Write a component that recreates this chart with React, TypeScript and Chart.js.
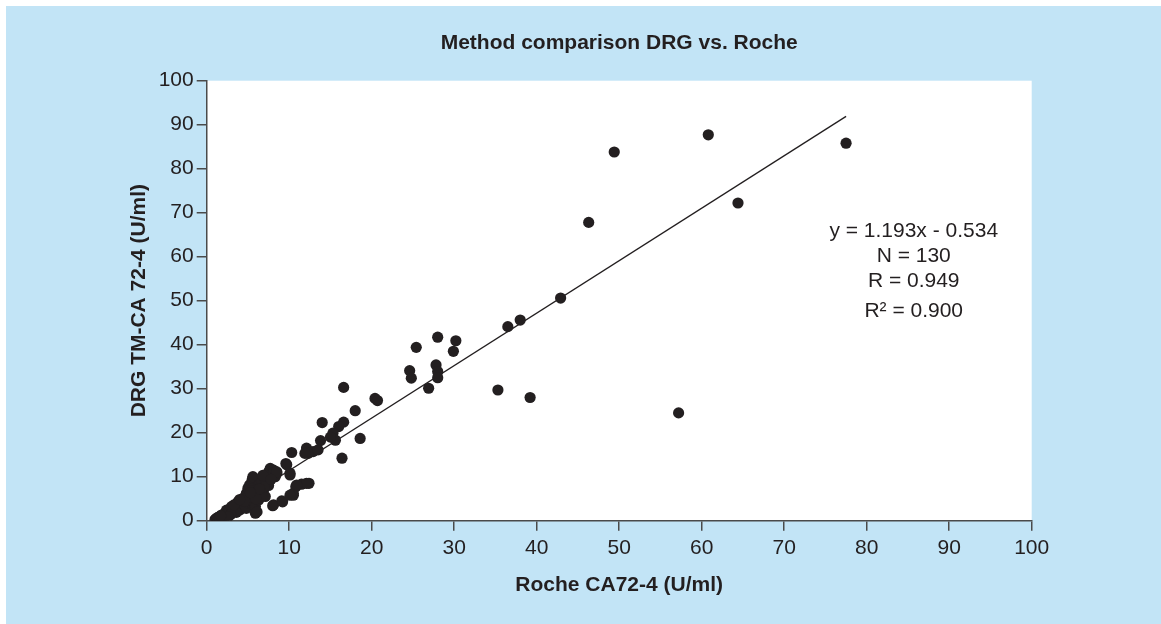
import React, { useEffect, useRef } from "react";
import { Chart, registerables } from "chart.js";

Chart.register(...registerables);

const chartTitle = "Method comparison DRG vs. Roche";
const xAxisTitle = "Roche CA72-4 (U/ml)";
const yAxisTitle = "DRG TM-CA 72-4 (U/ml)";
const axisTicks = [0, 10, 20, 30, 40, 50, 60, 70, 80, 90, 100];

// Roche CA72-4 (x) and DRG TM-CA 72-4 (y) values
const rocheValues = [
  77.5, 60.8, 49.4, 64.4, 46.3, 57.2, 42.9,
  36.5, 38.0, 35.3, 39.2, 25.4, 28.0, 30.2, 29.9, 24.6, 24.8, 27.8, 28.0, 28.0, 26.9, 20.4, 20.7,
  16.6, 18.0, 14.0, 16.6, 16.0, 15.3, 15.6, 15.0, 13.8, 18.6, 16.4, 10.3, 12.1, 12.9, 12.3, 13.5,
  9.6, 10.1, 10.1, 12.4, 11.5, 10.8, 10.5, 10.5, 11.9, 12.1, 9.7,
  1.0, 1.1, 1.2, 1.2, 1.3, 1.4, 1.5, 1.6, 1.8, 1.9, 2.0, 2.2, 2.2, 2.4, 2.5, 2.7, 2.8, 3.0, 3.0,
  3.2, 3.4, 3.5, 3.8, 3.8, 4.0, 4.2, 4.2, 4.4, 4.4, 4.6, 4.8, 4.8, 5.0, 5.0, 5.0, 5.2, 5.2, 5.5,
  5.5, 5.6, 5.6, 5.6, 5.6, 5.9, 5.9, 6.1, 6.1, 6.3, 6.3, 6.5, 6.7, 6.7, 6.9, 7.1, 7.1, 7.3, 7.5,
  7.5, 7.7, 8.1, 8.1, 8.3, 8.5, 8.5, 8.0, 8.1, 9.1, 9.2, 10.1, 10.9, 3.6, 2.9, 4.6, 6.0, 7.0,
  6.4, 5.3, 2.6, 1.7, 3.3, 4.0, 6.8, 7.8,
];
const drgValues = [
  85.8, 87.7, 83.8, 72.2, 67.8, 24.5, 50.6,
  44.1, 45.6, 29.7, 28.0, 39.4, 41.7, 40.9, 38.5, 34.1, 32.4, 35.4, 33.9, 32.5, 30.1, 27.8, 27.3,
  30.3, 25.0, 22.3, 22.4, 21.4, 19.9, 18.3, 19.0, 18.2, 18.7, 14.2, 15.5, 16.5, 15.7, 15.3, 16.1,
  13.0, 10.4, 10.8, 8.5, 8.3, 7.7, 5.8, 6.2, 15.3, 8.5, 12.7,
  0.2, 0.4, 0.1, 0.5, 0.7, 0.3, 0.9, 0.5, 1.3, 0.8, 1.1, 0.9, 1.7, 2.4, 1.5, 2.0, 2.4, 3.2, 1.8,
  2.6, 2.4, 3.0, 4.3, 4.0, 2.4, 2.8, 3.6, 4.7, 5.1, 3.0, 6.2, 2.8, 7.4, 4.0, 5.5, 7.7, 8.1, 8.5,
  9.2, 9.6, 10.0, 3.6, 4.3, 1.7, 3.2, 2.0, 6.6, 8.1, 4.7, 8.5, 8.9, 6.0, 7.0, 9.6, 5.5, 9.2, 11.1,
  8.0, 11.9, 11.5, 10.8, 10.0, 10.8, 11.1, 3.4, 3.6, 4.5, 4.3, 5.8, 8.1, 1.9, 1.4, 4.4, 5.0, 7.7,
  7.2, 6.4, 0.9, 1.1, 3.6, 4.8, 10.3, 9.4,
];

// regression line end points (as drawn)
const fitX = [1.0, 77.5];
const fitY = [0.66, 91.9];

// statistics box, positioned in data units
const statLines = ["y = 1.193x - 0.534", "N = 130", "R = 0.949", "R\u00B2 = 0.900"];
const statX = 85.7;
const statY = [65.7, 60.0, 54.5, 47.5];

const FONT = "'Liberation Sans', Arial, Helvetica, sans-serif";
const INK = "#231f20";
const AXIS = "#4a4a4a";
const BG = "rgb(194,228,246)";

const plotBackground = {
  id: "plotBackground",
  beforeDraw(chart: any) {
    const { ctx, chartArea: a } = chart;
    ctx.save();
    ctx.fillStyle = "#ffffff";
    ctx.fillRect(a.left, a.top, a.right - a.left, a.bottom - a.top);
    ctx.restore();
  },
};

const statsText = {
  id: "statsText",
  afterDatasetsDraw(chart: any) {
    const { ctx, scales } = chart;
    ctx.save();
    ctx.fillStyle = INK;
    ctx.font = `21px ${FONT}`;
    ctx.textAlign = "center";
    ctx.textBaseline = "middle";
    const px = scales.x.getPixelForValue(statX);
    statLines.forEach((t, i) => {
      ctx.fillText(t, px, scales.y.getPixelForValue(statY[i]));
    });
    ctx.restore();
  },
};

export default function App() {
  const ref = useRef<HTMLCanvasElement>(null);

  useEffect(() => {
    if (!ref.current) return;
    const points = rocheValues.map((x, i) => ({ x, y: drgValues[i] }));
    const line = fitX.map((x, i) => ({ x, y: fitY[i] }));
    const tickFont = { family: FONT, size: 21 };
    const titleFont = { family: FONT, size: 21, weight: "bold" as const };
    const chart = new Chart(ref.current, {
      type: "scatter",
      data: {
        datasets: [
          {
            data: points,
            backgroundColor: INK,
            borderWidth: 0,
            pointRadius: 5.6,
            pointHoverRadius: 5.6,
            order: 0,
          },
          {
            data: line,
            showLine: true,
            borderColor: INK,
            borderWidth: 1.3,
            pointRadius: 0,
            order: 1,
          } as any,
        ],
      },
      options: {
        animation: false,
        responsive: true,
        maintainAspectRatio: false,
        layout: { padding: { left: 116.6, right: 129.3, top: 0, bottom: 22.4 } },
        plugins: {
          legend: { display: false },
          tooltip: { enabled: false },
          title: {
            display: true,
            text: chartTitle,
            fullSize: false,
            color: INK,
            font: titleFont,
            padding: { top: 24.4, bottom: 25.1 },
          },
        },
        scales: {
          x: {
            type: "linear",
            min: 0,
            max: 100,
            afterBuildTicks(s: any) {
              s.ticks = axisTicks.map((v) => ({ value: v }));
            },
            afterFit(s: any) {
              s.height = 80.9;
            },
            ticks: { color: INK, font: tickFont, padding: 5, maxRotation: 0, autoSkip: false },
            grid: { drawOnChartArea: false, drawTicks: true, tickLength: 10, color: AXIS, lineWidth: 1.5 },
            border: { display: true, color: AXIS, width: 1.5 },
            title: { display: true, text: xAxisTitle, color: INK, font: titleFont, padding: { top: 4, bottom: 4 } },
          },
          y: {
            type: "linear",
            min: 0,
            max: 100,
            afterBuildTicks(s: any) {
              s.ticks = axisTicks.map((v) => ({ value: v }));
            },
            afterFit(s: any) {
              s.width = 84.1;
            },
            ticks: { color: INK, font: tickFont, padding: 3, autoSkip: false },
            grid: { drawOnChartArea: false, drawTicks: true, tickLength: 10, color: AXIS, lineWidth: 1.5 },
            border: { display: true, color: AXIS, width: 1.5 },
            title: { display: true, text: yAxisTitle, color: INK, font: titleFont, padding: { top: 4, bottom: 4 } },
          },
        },
      },
      plugins: [plotBackground, statsText],
    });
    return () => chart.destroy();
  }, []);

  return (
    <div
      style={{
        position: "absolute",
        left: 6,
        top: 6,
        width: 1155,
        height: 618,
        background: BG,
      }}
    >
      <canvas ref={ref} />
    </div>
  );
}
